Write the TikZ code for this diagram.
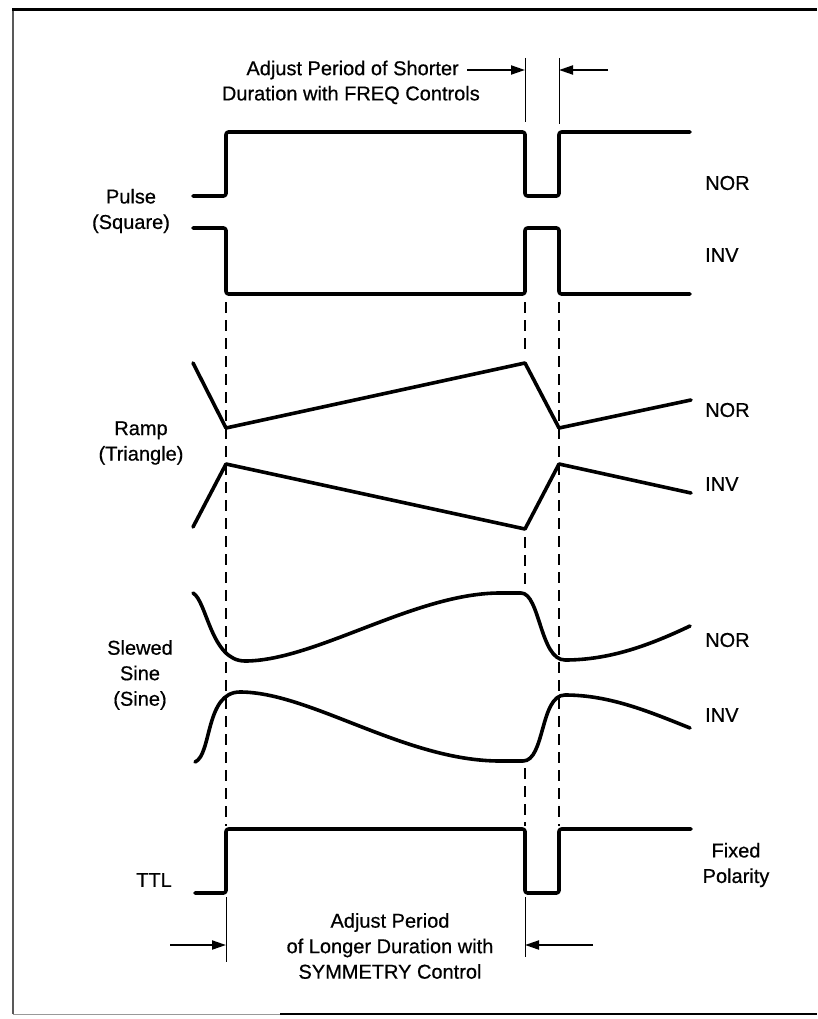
\documentclass[tikz,border=0pt]{standalone}
\usepackage{fontspec}
\setmainfont{Liberation Sans}
\newfontfamily\lblfont{Liberation Sans}[FakeBold=0.6]
\usetikzlibrary{arrows.meta}
\begin{document}
\begin{tikzpicture}[x=1pt,y=-1pt,
  wave/.style={line width=3.6pt, line join=round, line cap=round},
  pulsewave/.style={wave, rounded corners=2.5pt},
  guide/.style={line width=1.3pt, dash pattern=on 11pt off 7pt},
  marker/.style={line width=0.9pt},
  dimarrow/.style={line width=2pt, -{Triangle[length=14pt,width=9pt]}},
  lbl/.style={font=\lblfont\fontsize{20}{25.5}\selectfont, inner sep=0pt, align=center},
  frame/.style={line width=2.6pt, black!65},
]
\useasboundingbox (0,0) rectangle (817,1019);

% frame
\draw[frame] (13,1014) -- (13,10);
\draw[line width=3pt] (12,10) -- (817,10);
\draw[line width=1pt, black!40] (13,1014) -- (280,1014);
\draw[line width=1.6pt] (280,1014) -- (817,1014);

% edge positions
\def\xa{226}
\def\xb{525}
\def\xc{559}

% pulse NOR / INV
\draw[pulsewave] (193,196) -| (\xa,132) -| (\xb,196) -| (\xc,132) -- (690,132);
\draw[pulsewave] (193,228) -| (\xa,294) -| (\xb,228) -| (\xc,294) -- (690,294);

% ramp NOR / INV
\draw[wave] (193,363) -- (\xa,428) -- (\xb,363) -- (\xc,428) -- (691,400);
\draw[wave] (193,527) -- (\xa,464) -- (\xb,529) -- (\xc,464) -- (691,493);

% slewed sine NOR
\draw[wave] (193,593) .. controls (207,601) and (211,661) .. (245,661)
  .. controls (315,661) and (415,593) .. (500,593)
  -- (521,593)
  .. controls (540,593) and (540,660) .. (565,660)
  .. controls (610,660) and (650,645) .. (690,626);
% slewed sine INV
\draw[wave] (195,762) .. controls (212,755) and (205,692) .. (240,692)
  .. controls (310,692) and (405,761) .. (500,761)
  -- (523,761)
  .. controls (545,761) and (540,695) .. (565,695)
  .. controls (610,695) and (650,712) .. (690,728);

% TTL
\draw[pulsewave] (195,893) -| (\xa,829) -| (\xb,893) -| (\xc,829) -- (691,829);

% dashed guides
\draw[guide] (\xa,302) -- (\xa,826);
\draw[guide] (\xc,302) -- (\xc,826);
\draw[guide] (\xb,302) -- (\xb,355);
\draw[guide] (\xb,537) -- (\xb,588);
\draw[guide] (\xb,768) -- (\xb,826);

% top markers and arrows
\coordinate (mt1) at (\xb,70);
\coordinate (mt2) at (\xc,70);
\coordinate (at1) at (467,70);
\coordinate (at2) at (608,70);
\draw[marker] (\xb,58) -- (\xb,122);
\draw[marker] (\xc,58) -- (\xc,124);
\draw[dimarrow] (at1) -- (mt1);
\draw[dimarrow] (at2) -- (mt2);

% bottom markers and arrows
\coordinate (mb1) at (\xa,945);
\coordinate (mb2) at (\xb,945);
\coordinate (ab1) at (170,945);
\coordinate (ab2) at (593,945);
\draw[marker] (\xa,897) -- (\xa,962);
\draw[marker] (\xb,897) -- (\xb,957);
\draw[dimarrow] (ab1) -- (mb1);
\draw[dimarrow] (ab2) -- (mb2);

% texts
\node[lbl, anchor=east] (t1) at (459,70) {Adjust Period of Shorter};
\node[lbl, anchor=east] (t2) at (480,95) {Duration with FREQ Controls};
\node[lbl] (b1) at (390,946) {Adjust Period\\of Longer Duration with\\SYMMETRY Control};

\node[lbl] (lp) at (131,211) {Pulse\\(Square)};
\node[lbl] (lr) at (141,443) {Ramp\\(Triangle)};
\node[lbl] (ls) at (140,675) {Slewed\\Sine\\(Sine)};
\node[lbl] (lt) at (154,880) {TTL};

\node[lbl, anchor=west] (r1) at (705,183) {NOR};
\node[lbl, anchor=west] (r2) at (705,255) {INV};
\node[lbl, anchor=west] (r3) at (705,410) {NOR};
\node[lbl, anchor=west] (r4) at (705,484) {INV};
\node[lbl, anchor=west] (r5) at (705,640) {NOR};
\node[lbl, anchor=west] (r6) at (705,715) {INV};
\node[lbl] (r7) at (736,865) {Fixed\\Polarity};
\end{tikzpicture}
\end{document}
